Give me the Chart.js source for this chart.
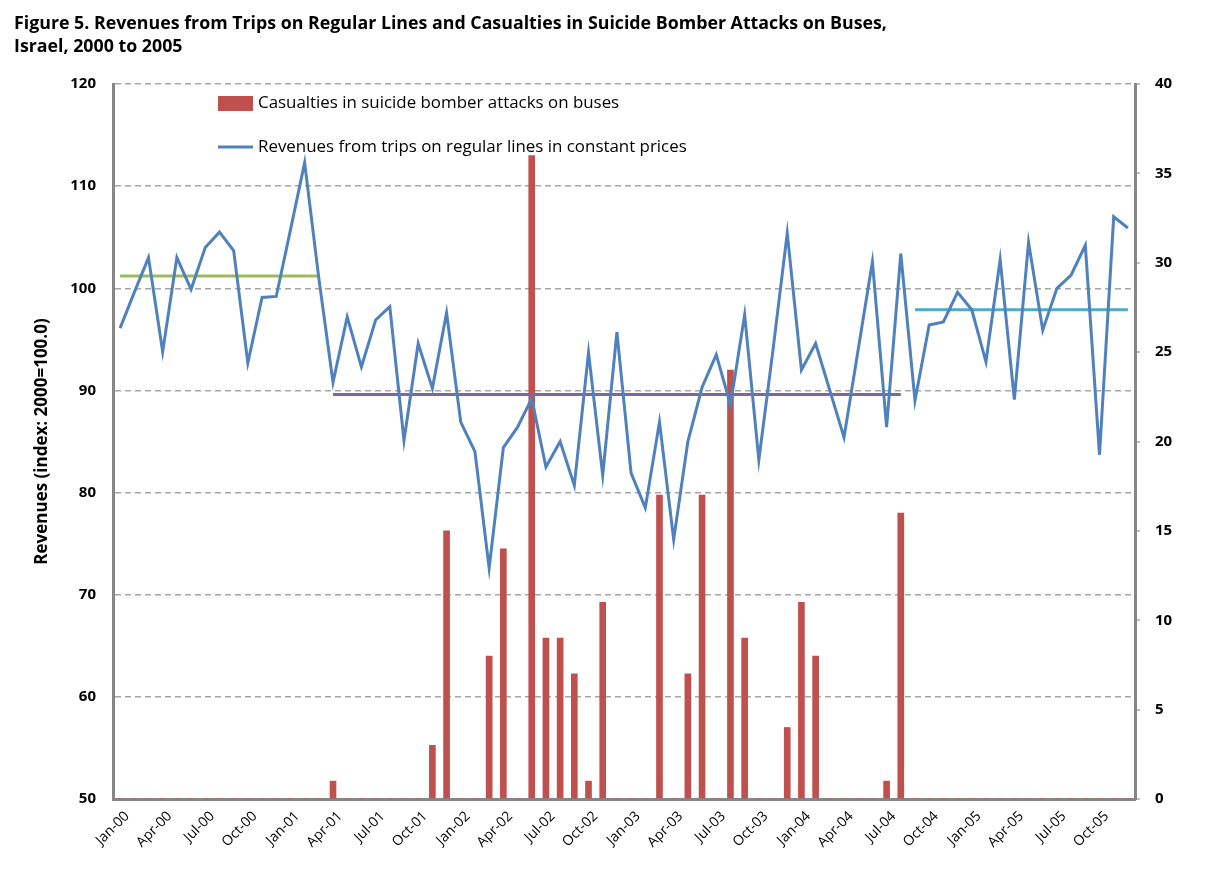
<!DOCTYPE html>
<html>
<head>
<meta charset="utf-8">
<script src="https://cdn.jsdelivr.net/npm/chart.js@4.4.1/dist/chart.umd.min.js"></script>
<style>
  body { margin: 0; background: #fff; }
  #wrap { position: relative; width: 1208px; height: 894px; }
  #title { position: absolute; left: 14px; top: 11px; font: bold 17.8px "Open Sans", sans-serif; line-height: 23px; color: #000; }
  canvas { position: absolute; left: 0; top: 0; }
</style>
</head>
<body>
<div id="wrap">
  <canvas id="chart" width="1208" height="894"></canvas>
  <div id="title">Figure 5. Revenues from Trips on Regular Lines and Casualties in Suicide Bomber Attacks on Buses,<br>Israel, 2000 to 2005</div>
</div>
<script>
var monthNames = ["Jan", "Feb", "Mar", "Apr", "May", "Jun", "Jul", "Aug", "Sep", "Oct", "Nov", "Dec"];
var years = ["00", "01", "02", "03", "04", "05"];

// revenues from trips on regular lines, index 2000=100.0
var revenue = [
  96.1, 99.6, 103.0, 93.8, 103.0, 99.9, 104.0, 105.5, 103.7, 92.7, 99.1, 99.2,
  105.7, 112.3, 101.0, 90.8, 97.2, 92.3, 96.9, 98.2, 85.1, 94.6, 90.2, 97.6,
  86.9, 84.0, 72.6, 84.4, 86.4, 89.2, 82.5, 85.0, 80.7, 93.7, 81.7, 95.7,
  81.9, 78.5, 86.9, 75.4, 85.0, 90.3, 93.5, 88.6, 97.4, 83.2, 94.0, 105.4,
  92.0, 94.6, 90.0, 85.4, 94.0, 102.6, 86.4, 103.4, 89.0, 96.4, 96.7, 99.6,
  97.9, 92.8, 102.8, 89.1, 104.5, 95.9, 100.0, 101.3, 104.2, 83.7, 107.0, 105.9
];

// casualties in suicide bomber attacks on buses
var casualties = [
  0, 0, 0, 0, 0, 0, 0, 0, 0, 0, 0, 0,
  0, 0, 0, 1, 0, 0, 0, 0, 0, 0, 3, 15,
  0, 0, 8, 14, 0, 36, 9, 9, 7, 1, 11, 0,
  0, 0, 17, 0, 7, 17, 0, 24, 9, 0, 0, 4,
  11, 8, 0, 0, 0, 0, 1, 16, 0, 0, 0, 0,
  0, 0, 0, 0, 0, 0, 0, 0, 0, 0, 0, 0
];

// period averages of the revenue index
var avgLevels = [101.2, 89.6, 97.9];
var avgStart = [0, 15, 56];
var avgEnd = [14, 55, 71];
var avgColors = ["#9BBB59", "#8064A2", "#4BACC6"];

var leftTicks = [50, 60, 70, 80, 90, 100, 110, 120];
var rightTicks = [0, 5, 10, 15, 20, 25, 30, 35, 40];

var labels = [];
years.forEach(function (y) {
  monthNames.forEach(function (m) { labels.push(m + "-" + y); });
});

var datasets = [];
avgLevels.forEach(function (lv, k) {
  var d = labels.map(function (_, i) { return (i >= avgStart[k] && i <= avgEnd[k]) ? lv : null; });
  datasets.push({
    type: "line", data: d, yAxisID: "y", borderColor: avgColors[k], borderWidth: 3,
    pointRadius: 0, spanGaps: false, order: 2
  });
});
datasets.push({
  type: "line", label: "Revenues from trips on regular lines in constant prices", data: revenue,
  yAxisID: "y", borderColor: "#4F81BD", borderWidth: 3, pointRadius: 0, tension: 0, order: 1
});
datasets.push({
  type: "bar", label: "Casualties in suicide bomber attacks on buses", data: casualties,
  yAxisID: "y2", backgroundColor: "#C0504D", barThickness: 6, order: 5
});

var axisGray = "#868686";
var fontFam = "'Open Sans', sans-serif";

var legendPlugin = {
  id: "insideLegend",
  afterDraw: function (chart) {
    var ctx = chart.ctx;
    ctx.save();
    ctx.font = "16.9px " + fontFam;
    ctx.textBaseline = "middle";
    ctx.fillStyle = "#C0504D";
    ctx.fillRect(218, 96, 35, 15);
    ctx.fillStyle = "#000";
    ctx.fillText("Casualties in suicide bomber attacks on buses", 258, 103);
    ctx.strokeStyle = "#4F81BD";
    ctx.lineWidth = 3;
    ctx.beginPath(); ctx.moveTo(218, 147); ctx.lineTo(253, 147); ctx.stroke();
    ctx.fillText("Revenues from trips on regular lines in constant prices", 258, 147);
    ctx.restore();
  }
};

new Chart(document.getElementById("chart"), {
  data: { labels: labels, datasets: datasets },
  plugins: [legendPlugin],
  options: {
    responsive: false,
    animation: false,
    layout: { padding: { top: 84, left: 0, right: 0, bottom: 0 } },
    plugins: { legend: { display: false }, tooltip: { enabled: false } },
    scales: {
      x: {
        type: "category",
        offset: true,
        grid: { display: false, drawTicks: false },
        border: { display: true, color: axisGray, width: 3 },
        ticks: {
          autoSkip: false, maxRotation: 45, minRotation: 45, padding: 9, labelOffset: 7,
          color: "#000", font: { family: fontFam, size: 14 },
          callback: function (v, i) { return i % 3 === 0 ? labels[i] : ""; }
        },
        afterFit: function (s) { s.height = 95; }
      },
      y: {
        position: "left", min: 50, max: 120,
        afterBuildTicks: function (s) { s.ticks = leftTicks.map(function (v) { return { value: v }; }); },
        grid: { color: "#A6A6A6", lineWidth: 1.5, drawTicks: false },
        border: { color: axisGray, width: 3, dash: [6, 4] },
        ticks: { padding: 17, color: "#000", font: { family: fontFam, size: 15, weight: "bold" } },
        title: {
          display: true, text: "Revenues (index: 2000=100.0)", color: "#000",
          font: { family: fontFam, size: 17, weight: "bold" }, padding: { top: 32, bottom: 0 }
        },
        afterFit: function (s) { s.width = 113; }
      },
      y2: {
        position: "right", min: 0, max: 40,
        afterBuildTicks: function (s) { s.ticks = rightTicks.map(function (v) { return { value: v }; }); },
        grid: { drawOnChartArea: false, drawTicks: true, tickLength: 5, color: "#BFBFBF", lineWidth: 2 },
        border: { color: axisGray, width: 3 },
        ticks: { padding: 15, color: "#000", font: { family: fontFam, size: 15, weight: "bold" } },
        afterFit: function (s) { s.width = 73; }
      }
    }
  }
});
</script>
</body>
</html>
